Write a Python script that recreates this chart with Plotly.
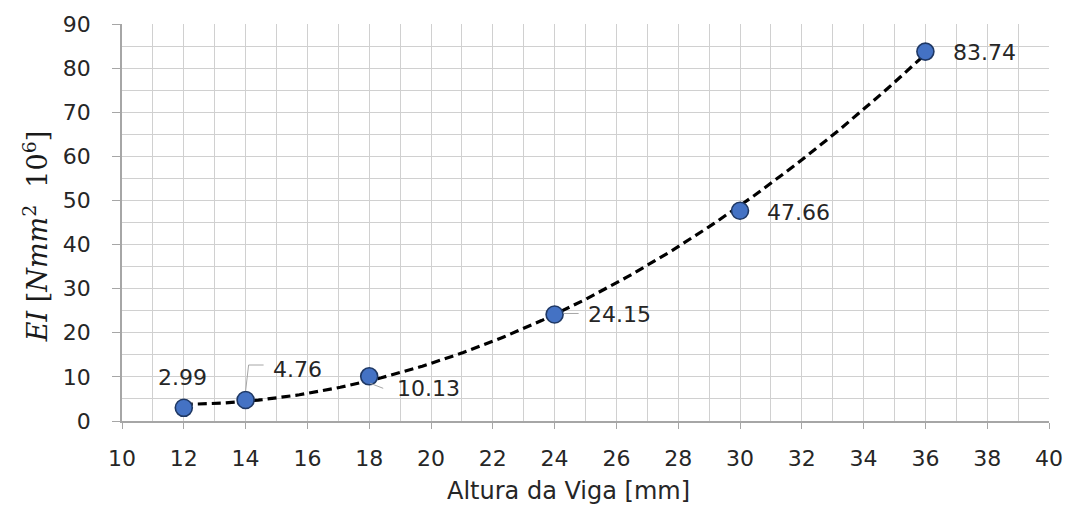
import numpy as np
import plotly.graph_objects as go

# Beam height (mm) and flexural stiffness EI (N·mm² ×10⁶)
altura_mm = [12, 14, 18, 24, 30, 36]
ei_valores = [2.99, 4.76, 10.13, 24.15, 47.66, 83.74]

x_tick_vals = list(range(10, 41, 2))
y_tick_vals = list(range(0, 91, 10))

# Label placement per point: (xanchor, dx px, dy px downward)
label_place = [
    ("center", -1, -30),
    ("left", 25, -31),
    ("left", 26, 12),
    ("left", 31, 0),
    ("left", 25, 2),
    ("left", 26, 1),
]
# Leader lines, pixel offsets from the point (x right, y down); None = no leader
leaders = [
    None,
    [(0, -9), (3, -35), (18, -35)],
    [(1, 7), (14, 12)],
    [(9, -1), (24, -1)],
    None,
    None,
]

TEXT_COLOR = "#262626"
TICK_FONT = dict(family="DejaVu Sans", size=22, color=TEXT_COLOR)
GRID = "#d0d0d0"
AXIS = "#a6a6a6"

# Second-order polynomial trendline through the measurements
coef = np.polyfit(altura_mm, ei_valores, 2)
xs = np.linspace(min(altura_mm), max(altura_mm), 200)
ys = np.polyval(coef, xs)

fig = go.Figure()
fig.add_trace(go.Scatter(
    x=xs, y=ys, mode="lines",
    line=dict(color="black", width=3.2, dash="9px,5px"),
    hoverinfo="skip", showlegend=False,
))
fig.add_trace(go.Scatter(
    x=altura_mm, y=ei_valores, mode="markers",
    marker=dict(size=17, color="#4472C4", line=dict(color="#1F3864", width=1.6)),
    showlegend=False,
))

annotations = []
shapes = []
for x, y, (anchor, dx, dy), lead in zip(altura_mm, ei_valores, label_place, leaders):
    annotations.append(dict(
        x=x, y=y, xref="x", yref="y", text=f"{y:.2f}", showarrow=False,
        xanchor=anchor, yanchor="middle", xshift=dx, yshift=-dy,
        font=TICK_FONT,
    ))
    if lead:
        path = "M " + " L ".join(f"{px} {-py}" for px, py in lead)
        shapes.append(dict(
            type="path", path=path, xref="x", yref="y",
            xsizemode="pixel", ysizemode="pixel", xanchor=x, yanchor=y,
            line=dict(color="#a6a6a6", width=1),
        ))

annotations.append(dict(
    xref="paper", yref="paper", x=0, y=0.463, xshift=-87,
    text="<i>EI</i> [<i>Nmm</i><sup>2</sup>  10<sup>6</sup>]",
    textangle=-90, showarrow=False, xanchor="center", yanchor="middle",
    font=dict(family="DejaVu Serif", size=27, color="#1a1a1a"),
))
annotations.append(dict(
    xref="paper", yref="paper", x=0.482, y=0, yshift=-70,
    text="Altura da Viga [mm]", showarrow=False,
    xanchor="center", yanchor="middle",
    font=dict(family="DejaVu Sans", size=24, color=TEXT_COLOR),
))

fig.update_layout(
    width=1075, height=518,
    margin=dict(l=122, r=22, t=22, b=97),
    paper_bgcolor="white", plot_bgcolor="white",
    annotations=annotations, shapes=shapes,
    showlegend=False,
)
fig.update_xaxes(
    range=[10, 40], tickvals=x_tick_vals,
    showgrid=True, gridcolor=GRID, gridwidth=1,
    minor=dict(dtick=1, tick0=10, showgrid=True, gridcolor=GRID, gridwidth=1),
    ticks="outside", ticklen=6, tickcolor=AXIS,
    showline=True, linecolor=AXIS, linewidth=1.5,
    zeroline=False, tickfont=TICK_FONT, ticklabelstandoff=11,
)
fig.update_yaxes(
    range=[0, 90], tickvals=y_tick_vals,
    showgrid=True, gridcolor=GRID, gridwidth=1,
    minor=dict(dtick=5, tick0=0, showgrid=True, gridcolor=GRID, gridwidth=1),
    ticks="outside", ticklen=8, tickcolor=AXIS,
    showline=True, linecolor=AXIS, linewidth=1.5,
    zeroline=False, tickfont=TICK_FONT, ticklabelstandoff=17,
)

fig.write_html("out.html")
